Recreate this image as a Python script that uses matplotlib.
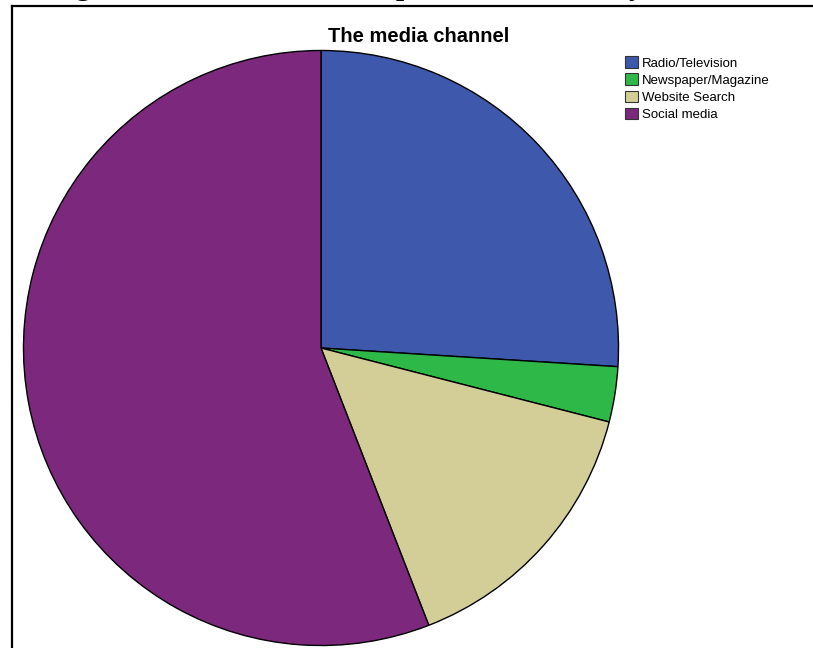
import matplotlib.pyplot as plt
from matplotlib.lines import Line2D

# --- Data (share of respondents, %)
channels = ["Radio/Television", "Newspaper/Magazine", "Website Search", "Social media"]
shares = [26.0, 3.0, 15.1, 55.9]
colors = ["#3E58AC", "#2EB848", "#D3CE97", "#7C287D"]

W, H = 813, 648
fig = plt.figure(figsize=(W / 100, H / 100), dpi=100)

# frame of the pasted SPSS output
fig.add_artist(Line2D([12 / W, 12 / W], [0, 1 - 5.5 / H], color="black", lw=1.6))
fig.add_artist(Line2D([12 / W, 1], [1 - 5.5 / H, 1 - 5.5 / H], color="black", lw=1.6))

# caption above the chart, cut off by the crop (only descenders visible)
for ch, xp in [("g", 82), ("p", 404), ("y", 636)]:
    fig.text(xp / W, 1 + 5 / H, ch, family="Liberation Serif", weight="bold",
             fontsize=21, ha="center", va="baseline")

# pie axes: centre (321, 348) px, radius 299 px
cx, cy, r = 321, 348, 299
ax = fig.add_axes([(cx - r) / W, (H - cy - r) / H, 2 * r / W, 2 * r / H])
ax.pie(shares, colors=colors, startangle=90, counterclock=False, radius=1,
       wedgeprops=dict(edgecolor="black", linewidth=1.0))
ax.set_xlim(-1.005, 1.005)
ax.set_ylim(-1.005, 1.005)
ax.set_aspect("auto")
ax.axis("off")

fig.text(419 / W, 1 - 36 / H, "The media channel", family="Liberation Sans",
         weight="bold", fontsize=14.5, ha="center", va="center")

handles = [plt.Rectangle((0, 0), 1, 1, facecolor=c, edgecolor="#333333", lw=0.8)
           for c in colors]
fig.legend(handles, channels, loc="upper left", bbox_to_anchor=(620 / W, 1 - 51 / H),
           frameon=False, prop={"family": "Liberation Sans", "size": 9.5},
           handlelength=0.95, handleheight=0.95, handletextpad=0.3,
           labelspacing=0.3, borderaxespad=0)

fig.savefig("out.png", dpi=100)
